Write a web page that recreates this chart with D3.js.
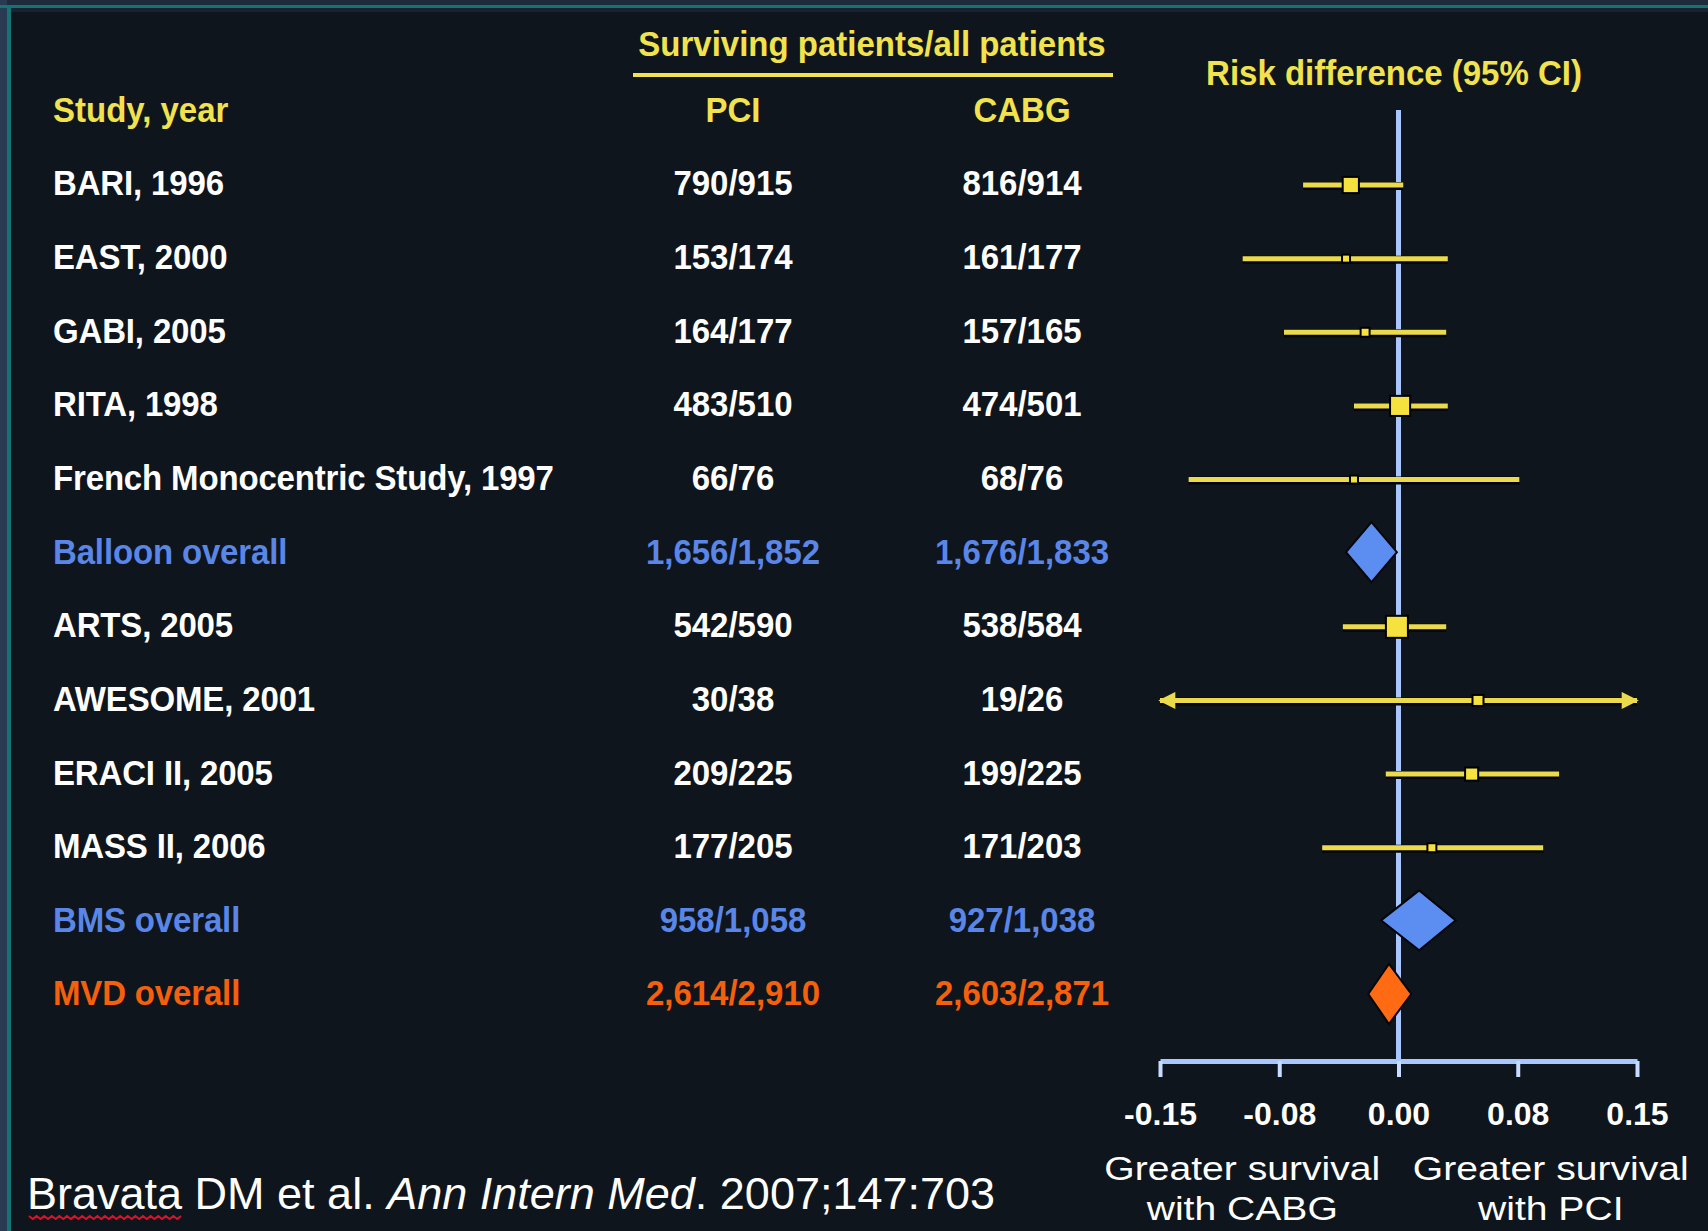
<!DOCTYPE html>
<html>
<head>
<meta charset="utf-8">
<script src="https://cdn.jsdelivr.net/npm/d3@7"></script>
<style>
  html, body { margin: 0; padding: 0; background: #0f151c; }
  svg { display: block; }
  text { font-family: "Liberation Sans", Arial, sans-serif; }
</style>
</head>
<body>
<svg id="chart" width="1708" height="1231"></svg>
<script>
// Study rows: label, surviving/all counts per arm, and risk difference (PCI − CABG) with 95% CI
const studies = [
  "BARI, 1996", "EAST, 2000", "GABI, 2005", "RITA, 1998",
  "French Monocentric Study, 1997", "Balloon overall",
  "ARTS, 2005", "AWESOME, 2001", "ERACI II, 2005", "MASS II, 2006",
  "BMS overall", "MVD overall"
];
const rowKinds = [
  "study", "study", "study", "study", "study", "balloon",
  "study", "study", "study", "study", "bms", "mvd"
];
const pciCounts = [
  "790/915", "153/174", "164/177", "483/510", "66/76", "1,656/1,852",
  "542/590", "30/38", "209/225", "177/205", "958/1,058", "2,614/2,910"
];
const cabgCounts = [
  "816/914", "161/177", "157/165", "474/501", "68/76", "1,676/1,833",
  "538/584", "19/26", "199/225", "171/203", "927/1,038", "2,603/2,871"
];
const riskDiff = [-0.030, -0.033, -0.021, 0.001, -0.028, -0.017, -0.001, 0.050, 0.046, 0.021, 0.013, -0.006];
const ciLower  = [-0.060, -0.098, -0.072, -0.028, -0.132, -0.033, -0.035, -0.155, -0.008, -0.048, -0.011, -0.019];
const ciUpper  = [ 0.003,  0.031,  0.030,  0.031,  0.076, -0.001,  0.030,  0.273,  0.101,  0.091,  0.036,  0.008];
// Relative study weights (pooled rows have none)
const weights  = [26, 6, 8, 40, 6, null, 48, 12, 17, 8, null, null];

const tickValues = [-0.15, -0.075, 0, 0.075, 0.15];
const tickLabels = ["-0.15", "-0.08", "0.00", "0.08", "0.15"];

const captionLines = [
  ["Greater survival", "with CABG"],
  ["Greater survival", "with PCI"]
];

const colors = {
  bg: "#0f151c",
  header: "#f1e24e",
  study: "#ffffff",
  balloon: "#5a86e8",
  bms: "#5a86e8",
  mvd: "#f4600c",
  ci: "#ebdb4c",
  box: "#f6e23e",
  ref: "#a9c6ff",
  diamondBlue: "#5c8ef2",
  diamondOrange: "#ff6a12"
};

const svg = d3.select("#chart");

// Frame: slate edge with a teal rule along the top and left
svg.append("rect").attr("width", 1708).attr("height", 1231).attr("fill", colors.bg);
svg.append("rect").attr("x", 0).attr("y", 0).attr("width", 1708).attr("height", 5).attr("fill", "#1d2b3c");
svg.append("rect").attr("x", 0).attr("y", 0).attr("width", 7).attr("height", 1231).attr("fill", "#2a3a52");
svg.append("rect").attr("x", 0).attr("y", 5).attr("width", 1708).attr("height", 3).attr("fill", "#137573");
svg.append("rect").attr("x", 7).attr("y", 5).attr("width", 4).attr("height", 1226).attr("fill", "#137573");
svg.append("rect").attr("x", 11).attr("y", 8).attr("width", 1697).attr("height", 4).attr("fill", "#1a2230");

const x = d3.scaleLinear().domain([-0.15, 0.15]).range([1160, 1637]);
const y = d3.scalePoint().domain(d3.range(studies.length)).range([183, 993]);
const boxSize = d3.scaleSqrt().domain([0, 48]).range([0, 22]);

const colLabel = 53, colPci = 733, colCabg = 1022;
const fontMain = 33;
const stretchY = 1.08;

// Places a text element at (px, py) with a slight vertical stretch
function placeText(sel, px, py) {
  return sel.attr("transform", (d, i) => {
    const xx = typeof px === "function" ? px(d, i) : px;
    const yy = typeof py === "function" ? py(d, i) : py;
    return `translate(${xx},${yy}) scale(1,${stretchY})`;
  }).attr("dy", "0.35em");
}

// Column headers
const header = svg.append("g").attr("font-weight", "bold").attr("font-size", fontMain).attr("fill", colors.header);
placeText(header.append("text").attr("text-anchor", "middle"), 872, 44).text("Surviving patients/all patients");
svg.append("line").attr("x1", 633).attr("x2", 1113).attr("y1", 75).attr("y2", 75)
  .attr("stroke", colors.header).attr("stroke-width", 4);
placeText(header.append("text"), colLabel, 110).text("Study, year");
placeText(header.append("text").attr("text-anchor", "middle"), colPci, 110).text("PCI");
placeText(header.append("text").attr("text-anchor", "middle"), colCabg, 110).text("CABG");
placeText(header.append("text").attr("text-anchor", "middle"), 1394, 73).text("Risk difference (95% CI)");

// Table body
const rows = svg.append("g").attr("font-weight", "bold").attr("font-size", fontMain)
  .selectAll("g").data(d3.range(studies.length)).join("g")
  .attr("fill", i => colors[rowKinds[i]]);
placeText(rows.append("text"), colLabel, i => y(i)).attr("letter-spacing", -0.15).text(i => studies[i]);
placeText(rows.append("text").attr("text-anchor", "middle"), colPci, i => y(i)).text(i => pciCounts[i]);
placeText(rows.append("text").attr("text-anchor", "middle"), colCabg, i => y(i)).text(i => cabgCounts[i]);

// Axis
const axisY = 1061;
const axis = svg.append("g").attr("transform", `translate(0,${axisY})`)
  .call(d3.axisBottom(x).tickValues(tickValues).tickFormat((d, i) => tickLabels[i])
    .tickSize(16).tickSizeOuter(0).tickPadding(25));
axis.select(".domain").attr("stroke", colors.ref).attr("stroke-width", 5);
axis.selectAll(".tick line").attr("stroke", "#c8dcff").attr("stroke-width", 4);
axis.selectAll(".tick text").attr("fill", "#ffffff").attr("font-size", 32).attr("font-weight", "bold")
  .attr("font-family", "'Liberation Sans', Arial, sans-serif");

// Line of no difference
svg.append("line").attr("x1", x(0)).attr("x2", x(0)).attr("y1", 110).attr("y2", axisY)
  .attr("stroke", colors.ref).attr("stroke-width", 5);

// Direction captions under each half of the axis
const capCenters = [x(-0.075) - 37, x(0.075) + 33];
const caps = svg.append("g").attr("fill", "#ffffff").attr("font-size", 34).attr("text-anchor", "middle");
captionLines.forEach((lines, c) => {
  lines.forEach((t, k) => {
    caps.append("text")
      .attr("transform", `translate(${capCenters[c]},${1168 + k * 40}) scale(1.15,1)`)
      .attr("dy", "0.35em").text(t);
  });
});

// Arrowheads for intervals running off the scale
const defs = svg.append("defs");
defs.append("marker").attr("id", "arrowEnd").attr("viewBox", "0 0 10 10").attr("refX", 9).attr("refY", 5)
  .attr("markerWidth", 4).attr("markerHeight", 3.4).attr("orient", "auto-start-reverse")
  .attr("markerUnits", "strokeWidth")
  .append("path").attr("d", "M0,0 L10,5 L0,10 Z").attr("fill", colors.ci);

// Individual study intervals and boxes
const studyIdx = d3.range(studies.length).filter(i => rowKinds[i] === "study");
const [dMin, dMax] = x.domain();
const forest = svg.append("g");
studyIdx.forEach(i => {
  const lo = Math.max(ciLower[i], dMin), hi = Math.min(ciUpper[i], dMax);
  const yy = y(i) + 2;
  forest.append("line").attr("x1", x(lo)).attr("x2", x(hi)).attr("y1", yy + 1).attr("y2", yy + 1)
    .attr("stroke", "#050505").attr("stroke-width", 8);
  const ln = forest.append("line").attr("x1", x(lo)).attr("x2", x(hi)).attr("y1", yy).attr("y2", yy)
    .attr("stroke", colors.ci).attr("stroke-width", 5);
  if (ciLower[i] < dMin) ln.attr("marker-start", "url(#arrowEnd)");
  if (ciUpper[i] > dMax) ln.attr("marker-end", "url(#arrowEnd)");
  const s = Math.max(boxSize(weights[i]), 8);
  forest.append("rect").attr("x", x(riskDiff[i]) - s / 2).attr("y", yy - s / 2)
    .attr("width", s).attr("height", s)
    .attr("fill", colors.box).attr("stroke", "#000").attr("stroke-width", 2);
});

// Pooled estimates as diamonds
const pooledIdx = d3.range(studies.length).filter(i => rowKinds[i] !== "study");
const diamondHalf = 30;
pooledIdx.forEach(i => {
  const yy = y(i) + 1;
  const pts = [[x(ciLower[i]), yy], [x(riskDiff[i]), yy - diamondHalf], [x(ciUpper[i]), yy], [x(riskDiff[i]), yy + diamondHalf]];
  forest.append("path").attr("d", d3.line()(pts) + "Z")
    .attr("fill", rowKinds[i] === "mvd" ? colors.diamondOrange : colors.diamondBlue)
    .attr("stroke", "#05070c").attr("stroke-width", 2);
});

// Citation
const cite = svg.append("text").attr("x", 27).attr("y", 1193).attr("dy", "0.35em")
  .attr("font-size", 45).attr("fill", "#ffffff");
cite.append("tspan").text("Bravata DM et al. ");
cite.append("tspan").attr("font-style", "italic").text("Ann Intern Med");
cite.append("tspan").text(". 2007;147:703");

// Red squiggle beneath the first author's name
const sq = [];
for (let k = 0; k <= 40; k++) sq.push([29 + k * 3.8, 1216 + (k % 2 ? 3 : 0)]);
svg.append("path").attr("d", d3.line()(sq)).attr("fill", "none").attr("stroke", "#e0102a").attr("stroke-width", 2);
</script>
</body>
</html>
